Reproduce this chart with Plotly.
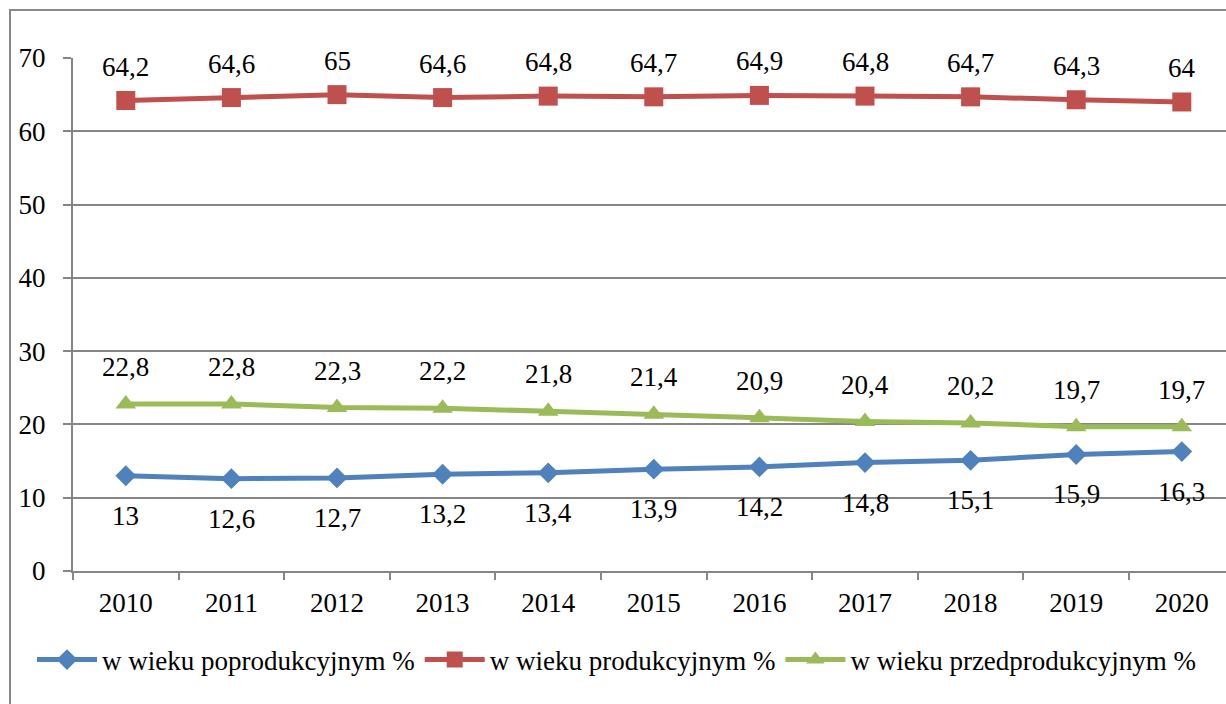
import plotly.graph_objects as go

years = ["2010", "2011", "2012", "2013", "2014", "2015", "2016", "2017", "2018", "2019", "2020"]
poprodukcyjny = [13, 12.6, 12.7, 13.2, 13.4, 13.9, 14.2, 14.8, 15.1, 15.9, 16.3]
produkcyjny = [64.2, 64.6, 65, 64.6, 64.8, 64.7, 64.9, 64.8, 64.7, 64.3, 64]
przedprodukcyjny = [22.8, 22.8, 22.3, 22.2, 21.8, 21.4, 20.9, 20.4, 20.2, 19.7, 19.7]
y_ticks = [0, 10, 20, 30, 40, 50, 60, 70]

series = [
    ("w wieku poprodukcyjnym %", poprodukcyjny, "#4F81BD", "diamond", 16, -40),
    ("w wieku produkcyjnym %", produkcyjny, "#C0504D", "square", 19, 34),
    ("w wieku przedprodukcyjnym %", przedprodukcyjny, "#9BBB59", "triangle-up", 18, 37),
]

FONT = "Liberation Serif"
FS = 27
fig = go.Figure()
for name, vals, color, sym, msize, shift in series:
    fig.add_trace(go.Scatter(
        x=years, y=vals, name=name, mode="lines+markers",
        line=dict(color=color, width=5),
        marker=dict(symbol=sym, size=msize, color=color),
        hoverinfo="skip",
    ))
    for i, yv in enumerate(vals):
        fig.add_annotation(
            x=i, y=yv, xref="x", yref="y", text=f"{yv:g}".replace(".", ","),
            showarrow=False, yshift=shift,
            font=dict(family=FONT, size=FS, color="black"),
        )

L, T, B = 73, 58, 133
W, H = 1226, 704
pw = W - L
ph = H - T - B
fig.add_shape(
    type="rect", xref="paper", yref="paper",
    x0=(10 - L) / pw, x1=1.2, y0=-0.6, y1=1 + (T - 10) / ph,
    line=dict(color="#898989", width=2), fillcolor="rgba(0,0,0,0)", layer="below",
)

fig.update_layout(
    width=W, height=H,
    margin=dict(l=L, r=0, t=T, b=B),
    paper_bgcolor="white", plot_bgcolor="white",
    font=dict(family=FONT, size=FS, color="black"),
    showlegend=True,
    legend=dict(
        orientation="h", xref="paper", yref="paper",
        x=(32 - L) / pw, xanchor="left", y=(571 - 660) / ph, yanchor="middle",
        font=dict(family=FONT, size=FS, color="black"),
        itemwidth=60, tracegroupgap=0, bgcolor="rgba(0,0,0,0)",
    ),
    xaxis=dict(
        type="category", range=[-0.5, (W - L) / 105.6 - 0.5],
        tickson="boundaries", ticks="outside", ticklen=7, tickwidth=2, tickcolor="#868686",
        showline=True, linecolor="#868686", linewidth=2, showgrid=False,
        ticklabelstandoff=7, fixedrange=True,
    ),
    yaxis=dict(
        range=[0, 70], tickvals=y_ticks, ticks="outside", ticklen=8, tickwidth=2,
        tickcolor="#868686", showline=True, linecolor="#868686", linewidth=2,
        showgrid=True, gridcolor="#868686", gridwidth=1.5, zeroline=False,
        ticklabelstandoff=12, fixedrange=True,
    ),
)

fig.write_html("out.html", config={"displayModeBar": False},
               post_script="document.body.style.margin='0';")
